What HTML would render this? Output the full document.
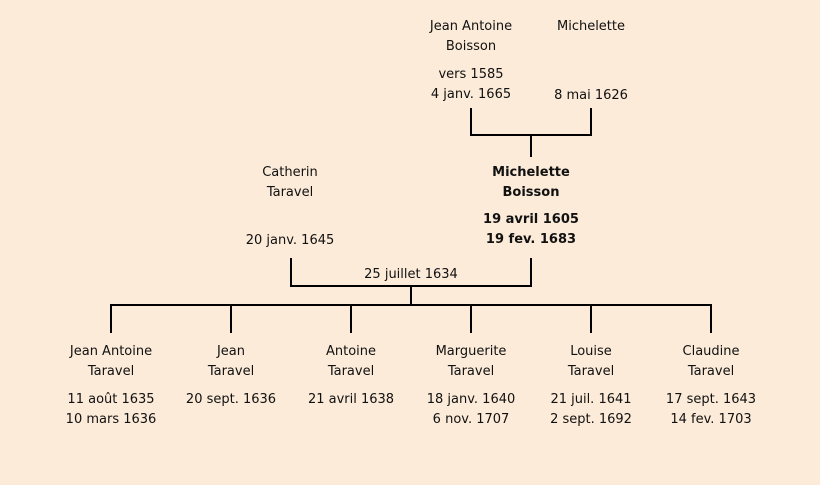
<!DOCTYPE html>
<html><head><meta charset="utf-8"><style>
html,body{margin:0;padding:0}
body{width:820px;height:485px;background:#fcebd9;position:relative;overflow:hidden;font-family:"Comic Sans MS","DejaVu Sans",sans-serif;font-size:13px;color:#111}
.t{position:absolute;width:160px;text-align:center;line-height:20px;white-space:nowrap}
.b{font-weight:bold}
.l{position:absolute;background:#000}
</style></head><body>
<div class="l" style="left:470px;top:108px;width:2px;height:28px"></div>
<div class="l" style="left:590px;top:108px;width:2px;height:28px"></div>
<div class="l" style="left:470px;top:134px;width:122px;height:2px"></div>
<div class="l" style="left:530px;top:134px;width:2px;height:23px"></div>

<div class="l" style="left:290px;top:258px;width:2px;height:29px"></div>
<div class="l" style="left:530px;top:258px;width:2px;height:29px"></div>
<div class="l" style="left:290px;top:285px;width:242px;height:2px"></div>
<div class="l" style="left:410px;top:285px;width:2px;height:21px"></div>
<div class="l" style="left:110px;top:304px;width:602px;height:2px"></div>
<div class="l" style="left:110px;top:304px;width:2px;height:29px"></div>
<div class="l" style="left:230px;top:304px;width:2px;height:29px"></div>
<div class="l" style="left:350px;top:304px;width:2px;height:29px"></div>
<div class="l" style="left:470px;top:304px;width:2px;height:29px"></div>
<div class="l" style="left:590px;top:304px;width:2px;height:29px"></div>
<div class="l" style="left:710px;top:304px;width:2px;height:29px"></div>

<div class="t" style="left:391px;top:17px">Jean Antoine<br>Boisson</div>
<div class="t" style="left:391px;top:65px">vers 1585<br>4 janv. 1665</div>
<div class="t" style="left:511px;top:17px">Michelette</div>
<div class="t" style="left:511px;top:86px">8 mai 1626</div>

<div class="t" style="left:210px;top:163px">Catherin<br>Taravel</div>
<div class="t" style="left:210px;top:231px">20 janv. 1645</div>
<div class="t b" style="left:451px;top:163px">Michelette<br>Boisson</div>
<div class="t b" style="left:451px;top:210px">19 avril 1605<br>19 fev. 1683</div>
<div class="t" style="left:331px;top:265px">25 juillet 1634</div>

<div class="t" style="left:31px;top:342px">Jean Antoine<br>Taravel</div>
<div class="t" style="left:31px;top:390px">11 août 1635<br>10 mars 1636</div>
<div class="t" style="left:151px;top:342px">Jean<br>Taravel</div>
<div class="t" style="left:151px;top:390px">20 sept. 1636</div>
<div class="t" style="left:271px;top:342px">Antoine<br>Taravel</div>
<div class="t" style="left:271px;top:390px">21 avril 1638</div>
<div class="t" style="left:391px;top:342px">Marguerite<br>Taravel</div>
<div class="t" style="left:391px;top:390px">18 janv. 1640<br>6 nov. 1707</div>
<div class="t" style="left:511px;top:342px">Louise<br>Taravel</div>
<div class="t" style="left:511px;top:390px">21 juil. 1641<br>2 sept. 1692</div>
<div class="t" style="left:631px;top:342px">Claudine<br>Taravel</div>
<div class="t" style="left:631px;top:390px">17 sept. 1643<br>14 fev. 1703</div>
</body></html>
